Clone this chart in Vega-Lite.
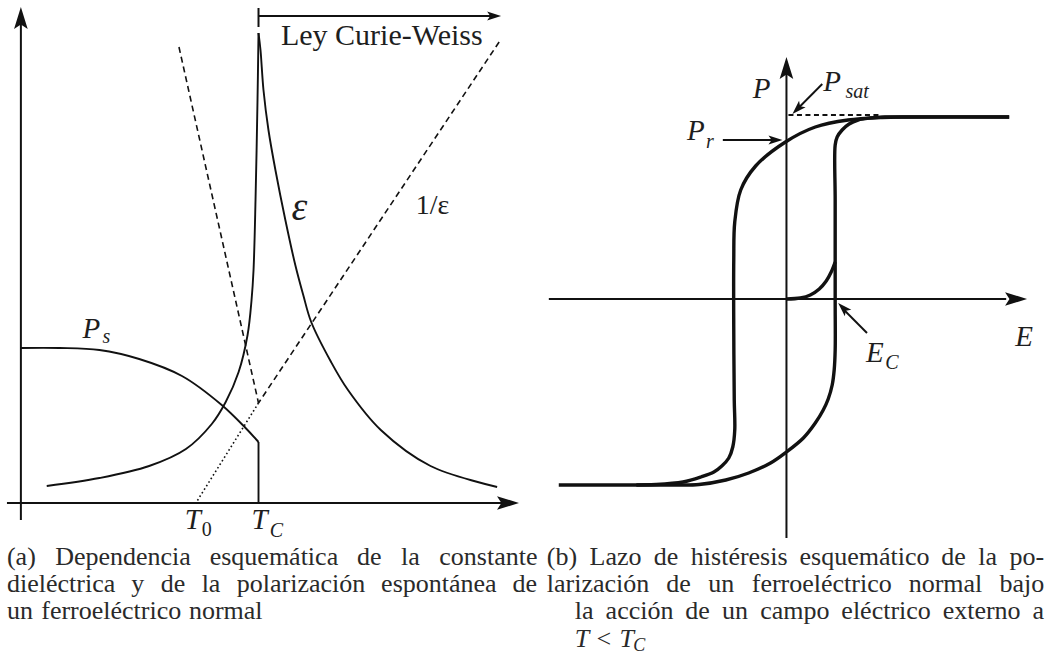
{
  "$schema": "https://vega.github.io/schema/vega-lite/v6.json",
  "width": 1045,
  "height": 670,
  "autosize": {"type": "fit", "contains": "padding"},
  "padding": 0,
  "background": "white",
  "config": {"view": {"stroke": null}, "text": {"font": "Liberation Serif, DejaVu Serif, serif"}},
  "datasets": {
    "curves": [
      {"series": "T_axis", "i": 0, "u": 7, "v": 503}, {"series": "T_axis", "i": 1, "u": 512, "v": 503},
      {"series": "Y_axis", "i": 0, "u": 21, "v": 520}, {"series": "Y_axis", "i": 1, "u": 21, "v": 14},
      {"series": "CW_bar", "i": 0, "u": 260, "v": 8}, {"series": "CW_bar", "i": 1, "u": 260, "v": 27},
      {"series": "CW_span", "i": 0, "u": 260, "v": 16}, {"series": "CW_span", "i": 1, "u": 495, "v": 16},
      {"series": "Ps", "i": 0, "u": 21, "v": 348}, {"series": "Ps", "i": 1, "u": 60, "v": 348},
      {"series": "Ps", "i": 2, "u": 100, "v": 350}, {"series": "Ps", "i": 3, "u": 140, "v": 359},
      {"series": "Ps", "i": 4, "u": 183, "v": 376}, {"series": "Ps", "i": 5, "u": 223, "v": 405},
      {"series": "Ps", "i": 6, "u": 247, "v": 428}, {"series": "Ps", "i": 7, "u": 260, "v": 442},
      {"series": "Ps_drop", "i": 0, "u": 260, "v": 442}, {"series": "Ps_drop", "i": 1, "u": 260, "v": 503},
      {"series": "eps_low", "i": 0, "u": 47, "v": 486}, {"series": "eps_low", "i": 1, "u": 100, "v": 478},
      {"series": "eps_low", "i": 2, "u": 150, "v": 466}, {"series": "eps_low", "i": 3, "u": 187, "v": 449},
      {"series": "eps_low", "i": 4, "u": 213, "v": 424}, {"series": "eps_low", "i": 5, "u": 227, "v": 402},
      {"series": "eps_low", "i": 6, "u": 240, "v": 372}, {"series": "eps_low", "i": 7, "u": 249, "v": 335},
      {"series": "eps_low", "i": 8, "u": 253, "v": 300}, {"series": "eps_low", "i": 9, "u": 255, "v": 270},
      {"series": "eps_low", "i": 10, "u": 257, "v": 200}, {"series": "eps_low", "i": 11, "u": 259, "v": 100},
      {"series": "eps_low", "i": 12, "u": 260, "v": 33},
      {"series": "eps_high", "i": 0, "u": 260, "v": 33}, {"series": "eps_high", "i": 1, "u": 262, "v": 50},
      {"series": "eps_high", "i": 2, "u": 265, "v": 90}, {"series": "eps_high", "i": 3, "u": 270, "v": 130},
      {"series": "eps_high", "i": 4, "u": 277, "v": 170}, {"series": "eps_high", "i": 5, "u": 287, "v": 220},
      {"series": "eps_high", "i": 6, "u": 297, "v": 265}, {"series": "eps_high", "i": 7, "u": 305, "v": 295},
      {"series": "eps_high", "i": 8, "u": 313, "v": 322}, {"series": "eps_high", "i": 9, "u": 333, "v": 362},
      {"series": "eps_high", "i": 10, "u": 350, "v": 390}, {"series": "eps_high", "i": 11, "u": 383, "v": 430},
      {"series": "eps_high", "i": 12, "u": 433, "v": 466}, {"series": "eps_high", "i": 13, "u": 500, "v": 487},
      {"series": "CW_extrap", "i": 0, "u": 180, "v": 47}, {"series": "CW_extrap", "i": 1, "u": 260, "v": 403},
      {"series": "inv_eps", "i": 0, "u": 502, "v": 42}, {"series": "inv_eps", "i": 1, "u": 260, "v": 403},
      {"series": "inv_eps_ext", "i": 0, "u": 260, "v": 403}, {"series": "inv_eps_ext", "i": 1, "u": 197, "v": 503},
      {"series": "E_axis", "i": 0, "u": 552, "v": 299}, {"series": "E_axis", "i": 1, "u": 1012, "v": 299},
      {"series": "P_axis", "i": 0, "u": 791, "v": 538}, {"series": "P_axis", "i": 1, "u": 791, "v": 64},
      {"series": "Psat_level", "i": 0, "u": 793, "v": 115}, {"series": "Psat_level", "i": 1, "u": 885, "v": 115},
      {"series": "loop_down", "i": 0, "u": 1015, "v": 117}, {"series": "loop_down", "i": 1, "u": 913, "v": 117},
      {"series": "loop_down", "i": 2, "u": 887, "v": 117.5}, {"series": "loop_down", "i": 3, "u": 853, "v": 120},
      {"series": "loop_down", "i": 4, "u": 820, "v": 127}, {"series": "loop_down", "i": 5, "u": 790, "v": 142},
      {"series": "loop_down", "i": 6, "u": 760, "v": 166}, {"series": "loop_down", "i": 7, "u": 745, "v": 190},
      {"series": "loop_down", "i": 8, "u": 739, "v": 222}, {"series": "loop_down", "i": 9, "u": 738, "v": 260},
      {"series": "loop_down", "i": 10, "u": 738, "v": 330}, {"series": "loop_down", "i": 11, "u": 738.5, "v": 400},
      {"series": "loop_down", "i": 12, "u": 739, "v": 430}, {"series": "loop_down", "i": 13, "u": 737, "v": 447},
      {"series": "loop_down", "i": 14, "u": 733, "v": 458}, {"series": "loop_down", "i": 15, "u": 726, "v": 466},
      {"series": "loop_down", "i": 16, "u": 718, "v": 472}, {"series": "loop_down", "i": 17, "u": 705, "v": 477},
      {"series": "loop_down", "i": 18, "u": 687, "v": 482}, {"series": "loop_down", "i": 19, "u": 660, "v": 484.5},
      {"series": "loop_down", "i": 20, "u": 620, "v": 485}, {"series": "loop_down", "i": 21, "u": 562, "v": 485},
      {"series": "loop_up", "i": 0, "u": 640, "v": 485}, {"series": "loop_up", "i": 1, "u": 680, "v": 485},
      {"series": "loop_up", "i": 2, "u": 703, "v": 484.5}, {"series": "loop_up", "i": 3, "u": 730, "v": 480},
      {"series": "loop_up", "i": 4, "u": 753, "v": 473}, {"series": "loop_up", "i": 5, "u": 775, "v": 463},
      {"series": "loop_up", "i": 6, "u": 791, "v": 452}, {"series": "loop_up", "i": 7, "u": 808, "v": 438},
      {"series": "loop_up", "i": 8, "u": 820, "v": 423}, {"series": "loop_up", "i": 9, "u": 828, "v": 410},
      {"series": "loop_up", "i": 10, "u": 833, "v": 399}, {"series": "loop_up", "i": 11, "u": 837, "v": 385},
      {"series": "loop_up", "i": 12, "u": 839, "v": 370}, {"series": "loop_up", "i": 13, "u": 840, "v": 350},
      {"series": "loop_up", "i": 14, "u": 840, "v": 300}, {"series": "loop_up", "i": 15, "u": 840, "v": 200},
      {"series": "loop_up", "i": 16, "u": 840, "v": 145}, {"series": "loop_up", "i": 17, "u": 842, "v": 137},
      {"series": "loop_up", "i": 18, "u": 847, "v": 130}, {"series": "loop_up", "i": 19, "u": 854, "v": 124},
      {"series": "loop_up", "i": 20, "u": 863, "v": 120}, {"series": "loop_up", "i": 21, "u": 875, "v": 118},
      {"series": "loop_up", "i": 22, "u": 890, "v": 117}, {"series": "loop_up", "i": 23, "u": 913, "v": 117},
      {"series": "loop_up", "i": 24, "u": 1015, "v": 117},
      {"series": "virgin", "i": 0, "u": 791, "v": 299}, {"series": "virgin", "i": 1, "u": 805, "v": 298},
      {"series": "virgin", "i": 2, "u": 815, "v": 295}, {"series": "virgin", "i": 3, "u": 824, "v": 289},
      {"series": "virgin", "i": 4, "u": 831, "v": 281}, {"series": "virgin", "i": 5, "u": 836, "v": 272},
      {"series": "virgin", "i": 6, "u": 840, "v": 262},
      {"series": "Pr_ptr", "i": 0, "u": 727, "v": 140}, {"series": "Pr_ptr", "i": 1, "u": 778, "v": 140},
      {"series": "Psat_ptr", "i": 0, "u": 827, "v": 84}, {"series": "Psat_ptr", "i": 1, "u": 803, "v": 108},
      {"series": "Ec_ptr", "i": 0, "u": 872, "v": 333}, {"series": "Ec_ptr", "i": 1, "u": 848, "v": 309}
    ],
    "heads": [
      {"target": "Y_axis", "u": 21, "v": 7, "dir": 0},
      {"target": "T_axis", "u": 522, "v": 503, "dir": 90},
      {"target": "P_axis", "u": 791, "v": 57, "dir": 0},
      {"target": "E_axis", "u": 1033, "v": 299, "dir": 90},
      {"target": "CW_span", "u": 504, "v": 16, "dir": 90},
      {"target": "Pr_ptr", "u": 787, "v": 140, "dir": 90},
      {"target": "Psat_ptr", "u": 797, "v": 114, "dir": 225},
      {"target": "Ec_ptr", "u": 843, "v": 303, "dir": 315}
    ],
    "labels": [
      {"text": "Ley Curie-Weiss", "u": 384, "v": 45, "kind": "note"},
      {"text": "P", "u": 92, "v": 338, "kind": "var"},
      {"text": "s", "u": 107, "v": 343, "kind": "sub"},
      {"text": "ε", "u": 301, "v": 220, "kind": "epsilon"},
      {"text": "1/ε", "u": 435, "v": 214, "kind": "ratio"},
      {"text": "T", "u": 194, "v": 529, "kind": "var"},
      {"text": "0", "u": 208, "v": 536, "kind": "subdigit"},
      {"text": "T", "u": 261, "v": 529, "kind": "var"},
      {"text": "C", "u": 278, "v": 537, "kind": "sub"},
      {"text": "P", "u": 766, "v": 98, "kind": "var"},
      {"text": "P", "u": 837, "v": 91, "kind": "var"},
      {"text": "sat", "u": 862, "v": 98, "kind": "sub"},
      {"text": "P", "u": 700, "v": 140, "kind": "var"},
      {"text": "r", "u": 714, "v": 148, "kind": "sub"},
      {"text": "E", "u": 880, "v": 362, "kind": "var"},
      {"text": "C", "u": 897, "v": 369, "kind": "sub"},
      {"text": "E", "u": 1030, "v": 346, "kind": "var"},

      {"text": "(a)", "u": 7, "v": 565, "kind": "word"},
      {"text": "Dependencia", "u": 55.5, "v": 565, "kind": "word"},
      {"text": "esquemática", "u": 210.9, "v": 565, "kind": "word"},
      {"text": "de", "u": 359.1, "v": 565, "kind": "word"},
      {"text": "la", "u": 403.4, "v": 565, "kind": "word"},
      {"text": "constante", "u": 441.8, "v": 565, "kind": "word"},
      {"text": "dieléctrica", "u": 7, "v": 592, "kind": "word"},
      {"text": "y", "u": 131.9, "v": 592, "kind": "word"},
      {"text": "de", "u": 161.6, "v": 592, "kind": "word"},
      {"text": "la", "u": 202.8, "v": 592, "kind": "word"},
      {"text": "polarización", "u": 238.2, "v": 592, "kind": "word"},
      {"text": "espontánea", "u": 383.3, "v": 592, "kind": "word"},
      {"text": "de", "u": 515.5, "v": 592, "kind": "word"},
      {"text": "un", "u": 7, "v": 619, "kind": "word"},
      {"text": "ferroeléctrico", "u": 41.5, "v": 619, "kind": "word"},
      {"text": "normal", "u": 190, "v": 619, "kind": "word"},

      {"text": "(b)", "u": 550, "v": 565, "kind": "word"},
      {"text": "Lazo", "u": 593, "v": 565, "kind": "word"},
      {"text": "de", "u": 657.6, "v": 565, "kind": "word"},
      {"text": "histéresis", "u": 694.8, "v": 565, "kind": "word"},
      {"text": "esquemático", "u": 804.2, "v": 565, "kind": "word"},
      {"text": "de", "u": 946.8, "v": 565, "kind": "word"},
      {"text": "la", "u": 984, "v": 565, "kind": "word"},
      {"text": "po-", "u": 1015.4, "v": 565, "kind": "word"},
      {"text": "larización", "u": 550, "v": 592, "kind": "word"},
      {"text": "de", "u": 670.2, "v": 592, "kind": "word"},
      {"text": "un", "u": 712.4, "v": 592, "kind": "word"},
      {"text": "ferroeléctrico", "u": 756.1, "v": 592, "kind": "word"},
      {"text": "normal", "u": 913.9, "v": 592, "kind": "word"},
      {"text": "bajo", "u": 1005.2, "v": 592, "kind": "word"},
      {"text": "la", "u": 578, "v": 619, "kind": "word"},
      {"text": "acción", "u": 609.1, "v": 619, "kind": "word"},
      {"text": "de", "u": 689.3, "v": 619, "kind": "word"},
      {"text": "un", "u": 726.2, "v": 619, "kind": "word"},
      {"text": "campo", "u": 764.6, "v": 619, "kind": "word"},
      {"text": "eléctrico", "u": 846.2, "v": 619, "kind": "word"},
      {"text": "externo", "u": 948.1, "v": 619, "kind": "word"},
      {"text": "a", "u": 1038.4, "v": 619, "kind": "word"},
      {"text": "T", "u": 578, "v": 647, "kind": "mathword"},
      {"text": "<", "u": 600, "v": 647, "kind": "word"},
      {"text": "T", "u": 623, "v": 647, "kind": "mathword"},
      {"text": "C", "u": 637, "v": 651, "kind": "mathsub"}
    ]
  },
  "encoding": {
    "x": {"field": "u", "type": "quantitative", "scale": {"domain": [0, 1045], "nice": false, "zero": false}, "axis": null},
    "y": {"field": "v", "type": "quantitative", "scale": {"domain": [0, 670], "reverse": true, "nice": false, "zero": false}, "axis": null}
  },
  "layer": [
    {
      "data": {"name": "curves"},
      "transform": [{"filter": {"field": "series", "oneOf": ["T_axis", "Y_axis", "CW_bar", "CW_span", "E_axis", "P_axis"]}}],
      "mark": {"type": "line", "color": "#111111", "strokeWidth": 2, "strokeCap": "butt"},
      "encoding": {"detail": {"field": "series"}, "order": {"field": "i", "type": "quantitative"}}
    },
    {
      "data": {"name": "curves"},
      "transform": [{"filter": {"field": "series", "oneOf": ["Pr_ptr", "Psat_ptr", "Ec_ptr"]}}],
      "mark": {"type": "line", "color": "#111111", "strokeWidth": 1.9, "strokeCap": "butt"},
      "encoding": {"detail": {"field": "series"}, "order": {"field": "i", "type": "quantitative"}}
    },
    {
      "data": {"name": "curves"},
      "transform": [{"filter": {"field": "series", "oneOf": ["Ps", "Ps_drop", "eps_low", "eps_high"]}}],
      "mark": {"type": "line", "color": "#111111", "strokeWidth": 1.9, "interpolate": "catmull-rom", "strokeJoin": "round"},
      "encoding": {"detail": {"field": "series"}, "order": {"field": "i", "type": "quantitative"}}
    },
    {
      "data": {"name": "curves"},
      "transform": [{"filter": {"field": "series", "oneOf": ["CW_extrap", "inv_eps"]}}],
      "mark": {"type": "line", "color": "#111111", "strokeWidth": 1.6, "strokeDash": [6, 4]},
      "encoding": {"detail": {"field": "series"}, "order": {"field": "i", "type": "quantitative"}}
    },
    {
      "data": {"name": "curves"},
      "transform": [{"filter": {"field": "series", "equal": "inv_eps_ext"}}],
      "mark": {"type": "line", "color": "#111111", "strokeWidth": 1.6, "strokeDash": [1.6, 2.6]},
      "encoding": {"detail": {"field": "series"}, "order": {"field": "i", "type": "quantitative"}}
    },
    {
      "data": {"name": "curves"},
      "transform": [{"filter": {"field": "series", "equal": "Psat_level"}}],
      "mark": {"type": "line", "color": "#111111", "strokeWidth": 1.8, "strokeDash": [5, 3.5]},
      "encoding": {"detail": {"field": "series"}, "order": {"field": "i", "type": "quantitative"}}
    },
    {
      "data": {"name": "curves"},
      "transform": [{"filter": {"field": "series", "oneOf": ["loop_down", "loop_up", "virgin"]}}],
      "mark": {"type": "line", "color": "#111111", "strokeWidth": 3.4, "interpolate": "catmull-rom", "strokeJoin": "round"},
      "encoding": {"detail": {"field": "series"}, "order": {"field": "i", "type": "quantitative"}}
    },
    {
      "data": {"name": "heads"},
      "transform": [{"filter": {"field": "target", "oneOf": ["Y_axis", "T_axis", "P_axis", "E_axis"]}}],
      "mark": {"type": "point", "shape": "M0,0 L0.62,2 L0,1.6 L-0.62,2 Z", "filled": true, "size": 484, "color": "#111111", "opacity": 1, "strokeWidth": 0},
      "encoding": {"angle": {"field": "dir", "type": "quantitative", "scale": null}}
    },
    {
      "data": {"name": "heads"},
      "transform": [{"filter": {"field": "target", "oneOf": ["CW_span", "Pr_ptr", "Psat_ptr", "Ec_ptr"]}}],
      "mark": {"type": "point", "shape": "M0,0 L0.66,2 L0,1.55 L-0.66,2 Z", "filled": true, "size": 196, "color": "#111111", "opacity": 1, "strokeWidth": 0},
      "encoding": {"angle": {"field": "dir", "type": "quantitative", "scale": null}}
    },
    {
      "data": {"name": "labels"},
      "transform": [{"filter": {"field": "kind", "equal": "note"}}],
      "mark": {"type": "text", "fontSize": 30, "align": "center", "baseline": "alphabetic", "color": "#1e1e1e"},
      "encoding": {"text": {"field": "text"}}
    },
    {
      "data": {"name": "labels"},
      "transform": [{"filter": {"field": "kind", "equal": "var"}}],
      "mark": {"type": "text", "fontStyle": "italic", "fontSize": 29, "align": "center", "baseline": "alphabetic", "color": "#1e1e1e"},
      "encoding": {"text": {"field": "text"}}
    },
    {
      "data": {"name": "labels"},
      "transform": [{"filter": {"field": "kind", "equal": "sub"}}],
      "mark": {"type": "text", "fontStyle": "italic", "fontSize": 20, "align": "center", "baseline": "alphabetic", "color": "#1e1e1e"},
      "encoding": {"text": {"field": "text"}}
    },
    {
      "data": {"name": "labels"},
      "transform": [{"filter": {"field": "kind", "equal": "subdigit"}}],
      "mark": {"type": "text", "fontSize": 20, "align": "center", "baseline": "alphabetic", "color": "#1e1e1e"},
      "encoding": {"text": {"field": "text"}}
    },
    {
      "data": {"name": "labels"},
      "transform": [{"filter": {"field": "kind", "equal": "epsilon"}}],
      "mark": {"type": "text", "fontStyle": "italic", "fontSize": 40, "align": "center", "baseline": "alphabetic", "color": "#1e1e1e"},
      "encoding": {"text": {"field": "text"}}
    },
    {
      "data": {"name": "labels"},
      "transform": [{"filter": {"field": "kind", "equal": "ratio"}}],
      "mark": {"type": "text", "fontSize": 28, "align": "center", "baseline": "alphabetic", "color": "#1e1e1e"},
      "encoding": {"text": {"field": "text"}}
    },
    {
      "data": {"name": "labels"},
      "transform": [{"filter": {"field": "kind", "equal": "word"}}],
      "mark": {"type": "text", "fontSize": 26, "align": "left", "baseline": "alphabetic", "color": "#2a2a2a"},
      "encoding": {"text": {"field": "text"}}
    },
    {
      "data": {"name": "labels"},
      "transform": [{"filter": {"field": "kind", "equal": "mathword"}}],
      "mark": {"type": "text", "fontStyle": "italic", "fontSize": 26, "align": "left", "baseline": "alphabetic", "color": "#2a2a2a"},
      "encoding": {"text": {"field": "text"}}
    },
    {
      "data": {"name": "labels"},
      "transform": [{"filter": {"field": "kind", "equal": "mathsub"}}],
      "mark": {"type": "text", "fontStyle": "italic", "fontSize": 18, "align": "left", "baseline": "alphabetic", "color": "#2a2a2a"},
      "encoding": {"text": {"field": "text"}}
    }
  ]
}
